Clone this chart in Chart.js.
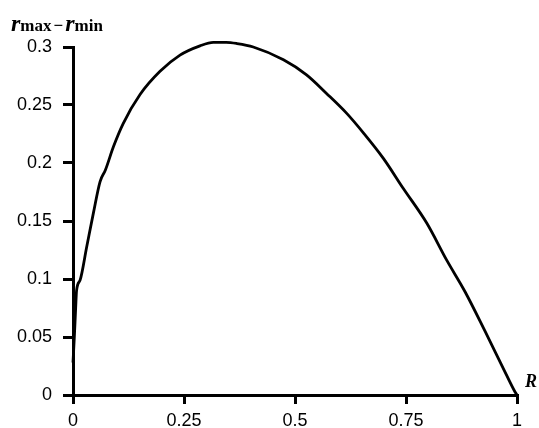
<!DOCTYPE html>
<html>
<head>
<meta charset="utf-8">
<script src="https://cdn.jsdelivr.net/npm/chart.js@4/dist/chart.umd.min.js"></script>
<style>
  html, body { margin: 0; padding: 0; background: #fff; }
  #wrap { position: relative; width: 539px; height: 428px; overflow: hidden; }
  canvas { position: absolute; left: 0; top: 0; }
  .lbl { position: absolute; font-family: 'Liberation Serif', 'Times New Roman', serif; font-weight: bold; color: #000; white-space: nowrap; line-height: 1; }
  .lbl i { font-style: italic; }
  #ytitle { left: 11px; top: 11px; font-size: 17px; }
  #ytitle i { font-size: 24px; }
  #ytitle .m { margin: 0 2px 0 2px; }
  #xtitle { left: 525px; top: 372px; font-size: 18px; }
</style>
</head>
<body>
<div id="wrap">
  <canvas id="c" width="539" height="428"></canvas>
  <div class="lbl" id="ytitle"><i>r</i>max<span class="m">−</span><i>r</i>min</div>
  <div class="lbl" id="xtitle"><i>R</i></div>
</div>
<script>
const xTicks = [0, 0.25, 0.5, 0.75, 1];
const xTickLabels = ['0', '0.25', '0.5', '0.75', '1'];
const yTicks = [0, 0.05, 0.1, 0.15, 0.2, 0.25, 0.3];
const yTickLabels = ['0', '0.05', '0.1', '0.15', '0.2', '0.25', '0.3'];

const rValues = [0, 0.003, 0.006, 0.008, 0.016, 0.031, 0.046, 0.061, 0.073, 0.091, 0.113, 0.151, 0.196, 0.241, 0.286, 0.316, 0.345, 0.369, 0.406, 0.474, 0.526, 0.571, 0.616, 0.654, 0.699, 0.744, 0.797, 0.842, 0.883, 0.928, 0.969, 0.995, 1];
const spreadValues = [0.028, 0.05, 0.075, 0.09, 0.099, 0.128, 0.157, 0.184, 0.194, 0.214, 0.234, 0.259, 0.279, 0.293, 0.301, 0.304, 0.304, 0.303, 0.300, 0.289, 0.276, 0.260, 0.243, 0.226, 0.204, 0.178, 0.148, 0.116, 0.089, 0.055, 0.023, 0.003, 0];

const points = rValues.map((r, i) => ({ x: r, y: spreadValues[i] }));
const tickFont = { family: "'Liberation Sans', Arial, sans-serif", size: 18 };

new Chart(document.getElementById('c'), {
  type: 'scatter',
  data: {
    datasets: [{
      data: points,
      showLine: true,
      borderColor: '#000',
      borderWidth: 2.8,
      pointRadius: 0,
      cubicInterpolationMode: 'monotone',
      clip: false
    }]
  },
  options: {
    responsive: false,
    animation: false,
    devicePixelRatio: 1,
    layout: { padding: { top: 47, right: 22, left: 0, bottom: 0 } },
    plugins: { legend: { display: false }, tooltip: { enabled: false } },
    scales: {
      x: {
        type: 'linear', position: 'bottom', min: 0, max: 1,
        afterBuildTicks: s => { s.ticks = xTicks.map(v => ({ value: v })); },
        afterFit: s => { s.height = 33; },
        ticks: { callback: (v, i) => xTickLabels[i], font: tickFont, color: '#000', padding: 6, maxRotation: 0, autoSkip: false },
        grid: { drawOnChartArea: false, drawTicks: true, tickLength: 9, color: '#000', lineWidth: 3 },
        border: { display: true, color: '#000', width: 3 }
      },
      y: {
        type: 'linear', position: 'left', min: 0, max: 0.3,
        afterBuildTicks: s => { s.ticks = yTicks.map(v => ({ value: v })); },
        afterFit: s => { s.width = 73; },
        ticks: { callback: (v, i) => yTickLabels[i], font: tickFont, color: '#000', padding: 11, autoSkip: false },
        grid: { drawOnChartArea: false, drawTicks: true, tickLength: 10, color: '#000', lineWidth: 3 },
        border: { display: true, color: '#000', width: 3 }
      }
    }
  }
});
</script>
</body>
</html>
